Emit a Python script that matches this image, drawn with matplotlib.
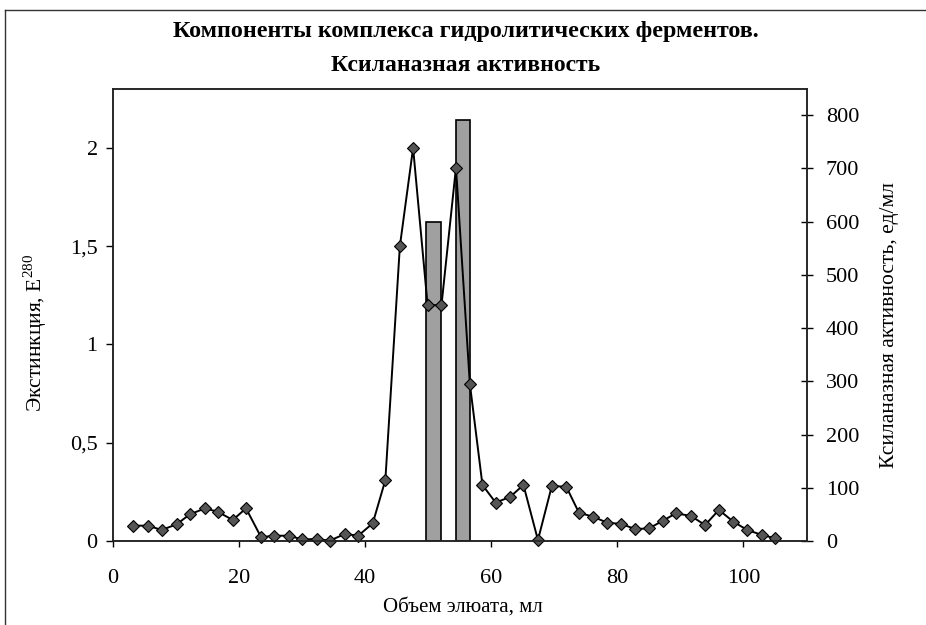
import matplotlib
matplotlib.use('Agg')
import matplotlib.pyplot as plt
from matplotlib.lines import Line2D

plt.rcParams['font.family'] = ['Liberation Serif', 'DejaVu Serif']
plt.rcParams['mathtext.fontset'] = 'stix'

# elution volume, ml and extinction E280 (line)
volume = [3.1, 5.6, 7.7, 10.1, 12.2, 14.6, 16.6, 19.0, 21.1, 23.5,
          25.5, 27.9, 30.0, 32.3, 34.4, 36.8, 38.9, 41.2, 43.2,
          45.5, 47.6, 49.9, 52.1, 54.4, 56.6, 58.6,
          60.7, 63.0, 65.1, 67.4, 69.6, 71.9, 73.9, 76.1, 78.4, 80.6,
          82.8, 85.0, 87.2, 89.3, 91.7, 93.9, 96.1, 98.4, 100.6, 102.9, 105.0]
extinction = [0.078, 0.078, 0.056, 0.085, 0.136, 0.166, 0.149, 0.107, 0.166, 0.019,
              0.027, 0.027, 0.008, 0.010, 0.002, 0.036, 0.027, 0.09, 0.31,
              1.50, 2.00, 1.20, 1.20, 1.90, 0.80, 0.285,
              0.195, 0.225, 0.285, 0.005, 0.28, 0.276, 0.144, 0.124, 0.093, 0.087,
              0.061, 0.064, 0.103, 0.141, 0.127, 0.081, 0.158, 0.098, 0.056, 0.031, 0.014]

# xylanase activity, units/ml (bars)
bar_volume = [50.8, 55.5]
activity = [600, 790]

left_ticks = [0, 0.5, 1, 1.5, 2]
left_labels = ['0', '0,5', '1', '1,5', '2']
right_ticks = [0, 100, 200, 300, 400, 500, 600, 700, 800]
x_ticks = [0, 20, 40, 60, 80, 100]

fig = plt.figure(figsize=(9.26, 6.25), dpi=100)
ax1 = fig.add_axes([0.122, 0.1344, 0.749, 0.7232])
ax2 = ax1.twinx()

ax2.bar(bar_volume, activity, width=2.3, color='#a0a0a0', edgecolor='black', linewidth=1.2)
ax1.set_zorder(ax2.get_zorder() + 1)
ax1.patch.set_visible(False)

ax1.plot(volume, extinction, color='black', lw=1.4, marker='D', ms=6.5,
         mfc='#555555', mec='black', mew=0.8, clip_on=False)

ax1.set_xlim(0, 110)
ax1.set_ylim(0, 2.30)
ax2.set_ylim(0, 849)

ax1.set_xticks(x_ticks)
ax1.set_xticklabels([str(t) for t in x_ticks])
ax1.set_yticks(left_ticks)
ax1.set_yticklabels(left_labels)
ax2.set_yticks(right_ticks)
ax2.set_yticklabels([str(t) for t in right_ticks])

ax1.tick_params(axis='x', direction='out', length=4, width=1, pad=16, labelsize=16)
ax1.tick_params(axis='y', direction='out', length=5, width=1, pad=6, labelsize=16)
ax2.tick_params(axis='y', direction='inout', length=8, width=1, pad=10, labelsize=16)

for ax in (ax1, ax2):
    for s in ax.spines.values():
        s.set_linewidth(1.1)
        s.set_color('#222222')

fig.text(0.503, 0.9408, 'Компоненты комплекса гидролитических ферментов.',
         ha='center', va='baseline', fontsize=17.3, fontweight='bold')
fig.text(0.503, 0.8864, 'Ксиланазная активность',
         ha='center', va='baseline', fontsize=17, fontweight='bold')

fig.text(0.5, 0.029, 'Объем элюата, мл', ha='center', va='center', fontsize=15)
fig.text(0.038, 0.467, r'Экстинкция, E$^{\mathregular{280}}$', rotation=90,
         ha='center', va='center', fontsize=15.5)
fig.text(0.961, 0.48, 'Ксиланазная активность, ед/мл', rotation=90,
         ha='center', va='center', fontsize=15.5)

# frame of the scanned page
fig.add_artist(Line2D([0.0054, 1.0], [0.984, 0.984], color='#333333', lw=1))
fig.add_artist(Line2D([0.0054, 0.0054], [0.0, 0.984], color='#333333', lw=1))

fig.savefig('out.png', dpi=100)
